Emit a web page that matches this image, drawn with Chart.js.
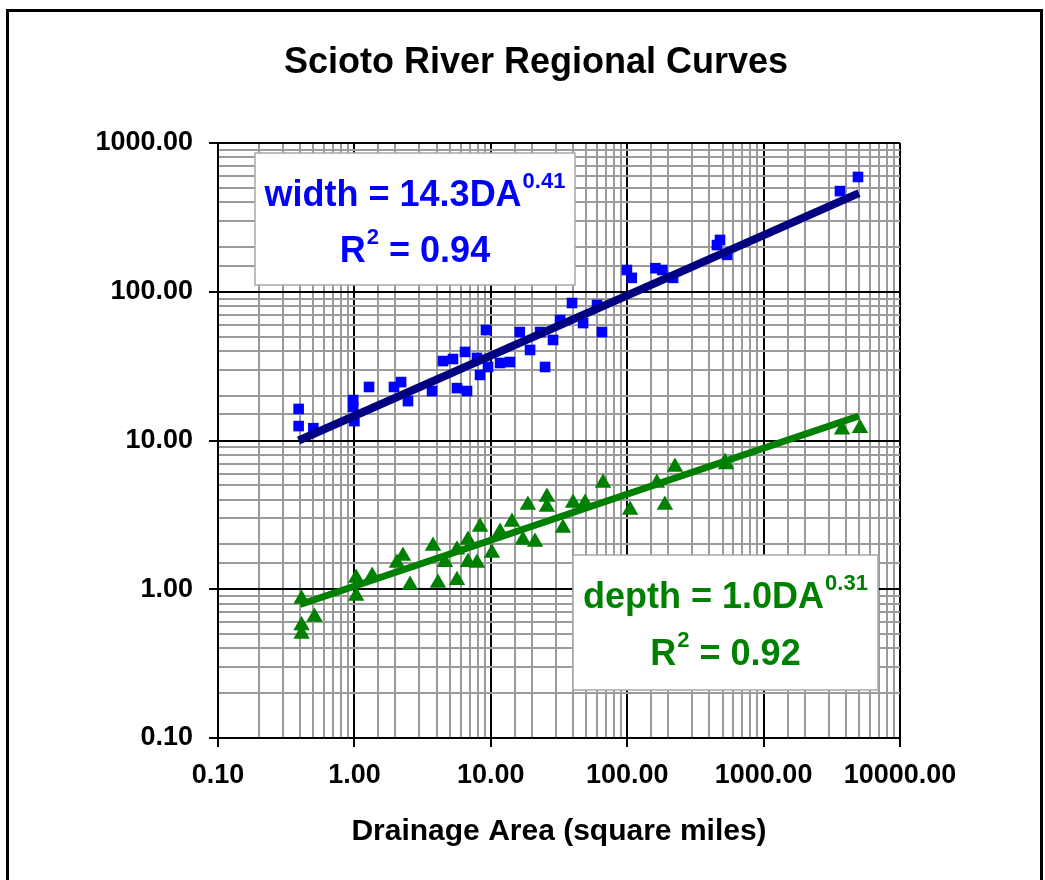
<!DOCTYPE html>
<html><head><meta charset="utf-8">
<script src="https://cdn.jsdelivr.net/npm/chart.js@4/dist/chart.umd.min.js"></script>
<style>
html,body{margin:0;padding:0;background:#fff;}
#wrap{position:relative;width:1045px;height:880px;overflow:hidden;background:#fff;}
#frame{position:absolute;left:6px;top:9px;width:1037px;height:900px;border:3px solid #000;box-sizing:border-box;pointer-events:none;}
canvas{position:absolute;left:0;top:0;}
</style></head><body>
<div id="wrap"><canvas id="c" width="1045" height="880"></canvas><div id="frame"></div></div>
<script>
// Width (square markers)
const widthArea  = [0.39,0.39,0.50,0.98,0.98,1.0,1.28,1.95,2.2,2.47,3.71,4.46,5.28,6.47,5.65,6.69,7.92,8.34,9.22,9.54,11.7,13.8,16.3,23.0,19.4,28.6,25.0,32.2,39.4,47.5,60.1,65.3,99.5,108,161,181,217,455,479,540,3630,4920];
const widthValue = [16.3,12.5,12.1,18.7,16.8,13.5,22.9,22.9,24.7,18.4,21.5,34.2,35.3,39.4,22.5,21.5,35.9,27.6,55.3,31.2,33.2,33.7,53.6,53.6,40.6,47.4,31.2,64.6,84.0,61.6,81.5,53.6,140,124,144,140,124,206,223,177,475,591];
// Depth (triangle markers)
const depthArea  = [0.41,0.41,0.41,0.51,1.03,1.03,1.35,2.27,2.05,2.56,3.77,4.10,4.61,5.65,5.65,6.80,6.80,7.92,8.34,10.2,11.7,14.3,17.2,18.7,21.1,25.8,25.8,33.8,40.1,49.1,66.5,105,165,189,224,521,530,3760,5090];
const depthValue = [0.86,0.57,0.50,0.65,1.19,0.90,1.23,1.67,1.50,1.07,1.95,1.10,1.52,1.15,1.84,2.14,1.52,1.50,2.62,1.75,2.43,2.83,2.14,3.68,2.08,4.17,3.57,2.58,3.80,3.80,5.18,3.41,5.18,3.68,6.64,7.17,6.90,11.8,12.1];
// Fitted power-law trend lines (end points)
const widthFitArea  = [0.39, 5000];
const widthFitValue = [10.0, 460];
const depthFitArea  = [0.40, 5000];
const depthFitValue = [0.79, 14.6];
// Axis tick labels (decades)
const tickDecades = [0.1, 1, 10, 100, 1000, 10000];

const FONT = "'Liberation Sans', Arial, sans-serif";
const zip = (a, b) => a.map((v, i) => ({x: v, y: b[i]}));
const isDecade = v => Math.abs(Math.log10(v) - Math.round(Math.log10(v))) < 1e-6;
const fmt = v => isDecade(v) ? Number(v).toFixed(2) : '';

const gridOpts = {
  color: c => (c.tick && isDecade(c.tick.value)) ? '#000' : '#9b9b9b',
  lineWidth: 2,
  drawTicks: true,
  tickLength: 9,
  tickWidth: 2,
  tickColor: c => (c.tick && isDecade(c.tick.value)) ? '#000' : 'rgba(0,0,0,0)'
};

const notes = [
  {box: [37, 10, 357, 142], color: '#0000ff',
   lines: [
     {dy: 63, parts: [{t: 'width = 14.3DA'}, {t: '0.41', sup: true}]},
     {dy: 119, parts: [{t: 'R'}, {t: '2', sup: true}, {t: ' = 0.94'}]}
   ]},
  {box: [355, 412, 660, 547], color: '#008000',
   lines: [
     {dy: 465, parts: [{t: 'depth = 1.0DA'}, {t: '0.31', sup: true}]},
     {dy: 522, parts: [{t: 'R'}, {t: '2', sup: true}, {t: ' = 0.92'}]}
   ]}
];

const notePlugin = {
  id: 'notes',
  beforeDatasetsDraw(chart) {
    const ctx = chart.ctx, a = chart.chartArea;
    ctx.save();
    notes.forEach(n => {
      const [x0, y0, x1, y1] = n.box;
      ctx.fillStyle = '#fff';
      ctx.fillRect(a.left + x0, a.top + y0, x1 - x0, y1 - y0);
      ctx.strokeStyle = '#a8a8a8';
      ctx.lineWidth = 1.5;
      ctx.strokeRect(a.left + x0, a.top + y0, x1 - x0, y1 - y0);
      const cx = a.left + (x0 + x1) / 2;
      ctx.fillStyle = n.color;
      ctx.textBaseline = 'alphabetic';
      ctx.textAlign = 'left';
      n.lines.forEach(l => {
        let total = 0;
        l.parts.forEach(p => {
          ctx.font = p.sup ? `bold 22px ${FONT}` : `bold 36px ${FONT}`;
          p.w = ctx.measureText(p.t).width;
          total += p.w + (p.sup ? 1 : 0);
        });
        let x = cx - total / 2;
        const base = a.top + l.dy;
        l.parts.forEach(p => {
          ctx.font = p.sup ? `bold 22px ${FONT}` : `bold 36px ${FONT}`;
          ctx.fillText(p.t, x + (p.sup ? 1 : 0), p.sup ? base - 18 : base);
          x += p.w + (p.sup ? 1 : 0);
        });
      });
    });
    ctx.restore();
  }
};

const titlePlugin = {
  id: 'ttl',
  afterDraw(chart) {
    const ctx = chart.ctx;
    ctx.save();
    ctx.font = `bold 36px ${FONT}`;
    ctx.fillStyle = '#000';
    ctx.textAlign = 'center';
    ctx.textBaseline = 'alphabetic';
    ctx.fillText('Scioto River Regional Curves', 536, 73);
    ctx.restore();
  }
};

new Chart(document.getElementById('c'), {
  type: 'scatter',
  data: {
    datasets: [
      {label: 'width fit', data: zip(widthFitArea, widthFitValue), showLine: true, borderColor: '#000080', borderWidth: 8, pointRadius: 0, order: 0},
      {label: 'depth fit', data: zip(depthFitArea, depthFitValue), showLine: true, borderColor: '#008000', borderWidth: 7, pointRadius: 0, order: 0},
      {label: 'width', data: zip(widthArea, widthValue), pointStyle: 'rect', pointRadius: 7.5, backgroundColor: '#0000ff', borderColor: '#0000ff', borderWidth: 0, order: 1},
      {label: 'depth', data: zip(depthArea, depthValue), pointStyle: 'triangle', pointRadius: 9.5, backgroundColor: '#008000', borderColor: '#008000', borderWidth: 0, order: 1}
    ]
  },
  options: {
    responsive: false,
    animation: false,
    events: [],
    layout: {padding: {top: 143, right: 145, left: 0, bottom: 0}},
    plugins: {legend: {display: false}, tooltip: {enabled: false}, title: {display: false}},
    scales: {
      x: {
        type: 'logarithmic', min: tickDecades[0], max: tickDecades[tickDecades.length - 1], position: 'bottom',
        border: {display: true, color: '#000', width: 2},
        grid: gridOpts,
        ticks: {autoSkip: false, maxRotation: 0, minRotation: 0, padding: 12, color: '#000',
                font: {family: FONT, size: 27, weight: 'bold'}, callback: v => fmt(v)},
        title: {display: true, text: 'Drainage Area (square miles)', color: '#000',
                font: {family: FONT, size: 30, weight: 'bold'}, padding: {top: 0, bottom: 30}},
        afterFit: s => { s.height = 142; }
      },
      y: {
        type: 'logarithmic', min: tickDecades[0], max: 1000, position: 'left',
        border: {display: true, color: '#000', width: 2},
        grid: gridOpts,
        ticks: {autoSkip: false, padding: 16, color: '#000',
                font: {family: FONT, size: 27, weight: 'bold'}, callback: v => fmt(v)},
        afterFit: s => { s.width = 218; }
      }
    }
  },
  plugins: [notePlugin, titlePlugin]
});
</script>
</body></html>
